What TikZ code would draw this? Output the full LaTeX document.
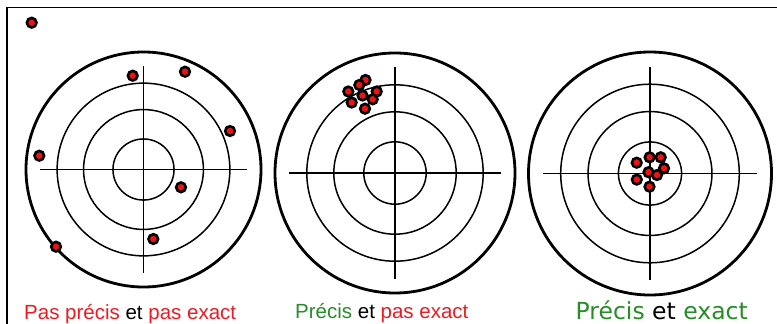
\documentclass[tikz,border=0pt]{standalone}
\usepackage{fontspec}
\setmainfont{Liberation Sans}
\newfontfamily\verd{DejaVu Sans}
\definecolor{tred}{RGB}{232,28,36}
\definecolor{tgreen}{RGB}{40,140,40}
\definecolor{shotred}{RGB}{235,20,20}
\newcommand\cible[4]{%
  \coordinate (#1) at (#2,#3);
  \draw[rim] (#1) circle[radius=#4];
  \foreach \f in {0.26,0.51,0.735} \draw[ring] (#1) circle[radius={\f*#4}];
  \draw[ring] ({#2-0.88*#4},#3) -- ({#2+0.88*#4},#3);
  \draw[ring] (#2,{#3-0.88*#4}) -- (#2,{#3+0.88*#4});
}
\begin{document}
\begin{tikzpicture}[x=1pt,y=-1pt,
  ring/.style={line width=1.5pt},
  rim/.style={line width=2.8pt},
  shot/.style={circle, fill=shotred, draw=black, line width=2.6pt, minimum size=9.6pt, inner sep=0pt},
  lbl/.style={anchor=base west, inner sep=0pt, text depth=0pt, font=\fontsize{20.5}{24}\selectfont}]
\useasboundingbox (0,0) rectangle (777,324);
\fill[white] (0,0) rectangle (777,324);
\draw[line width=1.8pt] (7,324) -- (7,7.5) -- (777,7.5);
% targets
\cible{t1}{143.5}{169.5}{117.5}
\cible{t2}{395}{173}{120}
\cible{t3}{650}{173.5}{121.5}
% shots target 1
\node[shot] (a1) at (31.7,22.7) {};
\node[shot] (a2) at (132.7,75.7) {};
\node[shot] (a3) at (185,71.7) {};
\node[shot] (a4) at (230,131) {};
\node[shot] (a5) at (39.3,155.7) {};
\node[shot] (a6) at (181,187.3) {};
\node[shot] (a7) at (153.3,239) {};
\node[shot] (a8) at (56,246.7) {};
% shots target 2
\node[shot] (b1) at (365.5,80) {};
\node[shot] (b2) at (359.3,85) {};
\node[shot] (b3) at (348.3,91.5) {};
\node[shot] (b4) at (376.7,91.5) {};
\node[shot] (b5) at (362.5,95.5) {};
\node[shot] (b6) at (351.7,102.5) {};
\node[shot] (b7) at (372.7,99.3) {};
\node[shot] (b8) at (365,108.7) {};
% shots target 3
\node[shot] (c1) at (636.7,162.7) {};
\node[shot] (c2) at (649.6,157.3) {};
\node[shot] (c3) at (660.7,157.3) {};
\node[shot] (c4) at (664,168.3) {};
\node[shot] (c5) at (648.5,172.2) {};
\node[shot] (c6) at (657,175) {};
\node[shot] (c7) at (636.8,179.6) {};
\node[shot] (c8) at (649.5,186.7) {};
% labels
\node[lbl] (l1) at (24,319.3) {\textcolor{tred}{Pas précis} et \textcolor{tred}{pas exact}};
\node[lbl] (l2) at (295,318.3) {\textcolor{tgreen}{Précis} et \textcolor{tred}{pas exact}};
\node[lbl, font=\verd\fontsize{23.5}{28}\selectfont] (l3) at (575.5,319.5) {\textcolor{tgreen}{Précis} et \textcolor{tgreen}{exact}};
\end{tikzpicture}
\end{document}
